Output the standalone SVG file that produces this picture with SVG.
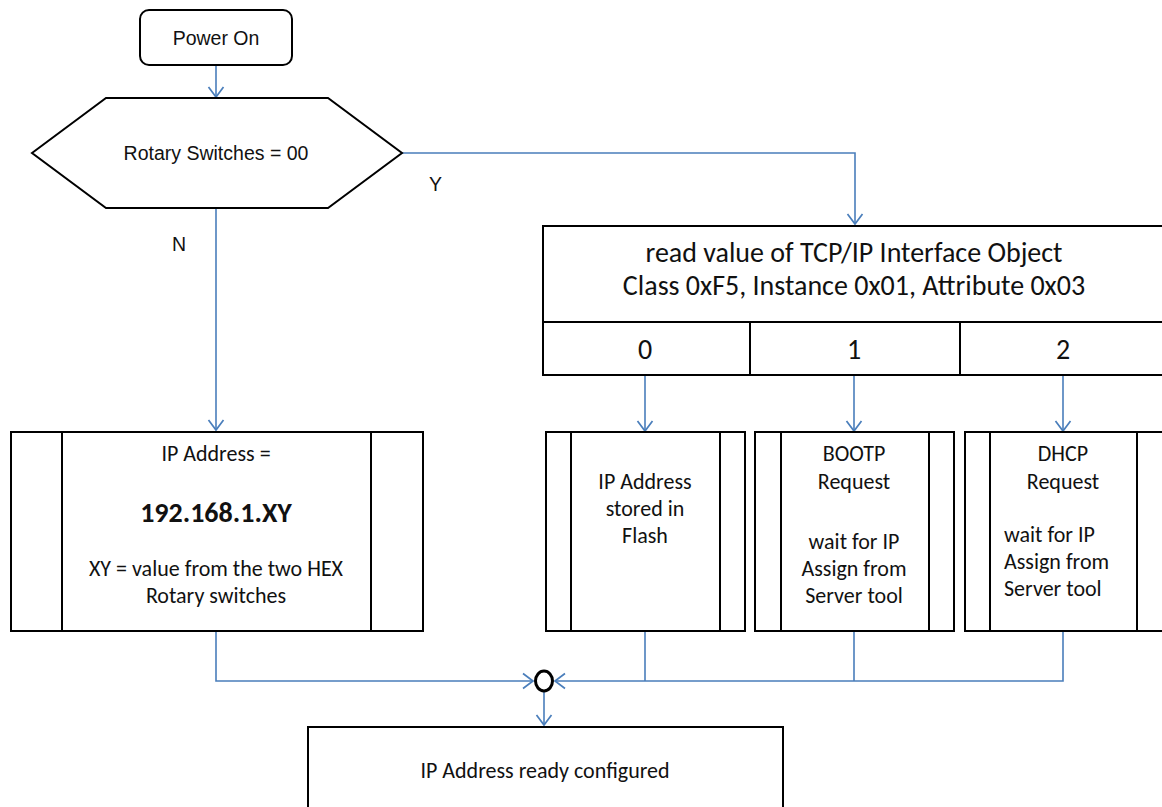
<svg xmlns="http://www.w3.org/2000/svg" width="1162" height="807" viewBox="0 0 1162 807">
<style>
.box{fill:#fff;stroke:#000;stroke-width:2}
.ln{fill:none;stroke:#000;stroke-width:2}
.c{fill:none;stroke:#4a7ebb;stroke-width:1.6}
.a{font-family:Arial,"Liberation Sans",sans-serif;font-size:19.5px;fill:#111;dominant-baseline:central}
.t{font-family:Carlito,Lato,"Liberation Sans",sans-serif;font-size:22px;fill:#111;dominant-baseline:central}
.big{font-size:28px}
.bold{font-weight:bold}
.m{text-anchor:middle}
</style>
<defs>
<marker id="ar" markerUnits="userSpaceOnUse" markerWidth="20" markerHeight="20" viewBox="0 0 20 20" refX="12" refY="10" orient="auto">
<path d="M2,2.5 L12,10 L2,17.5" fill="none" stroke="#4a7ebb" stroke-width="1.7"/>
</marker>
</defs>
<rect width="1162" height="807" fill="#fff"/>
<g id="connectors">
<path class="c" d="M216,65 V97" marker-end="url(#ar)"/>
<path class="c" d="M402,153 H855 V224" marker-end="url(#ar)"/>
<path class="c" d="M216,208 V430" marker-end="url(#ar)"/>
<path class="c" d="M645,375 V431" marker-end="url(#ar)"/>
<path class="c" d="M854,375 V431" marker-end="url(#ar)"/>
<path class="c" d="M1063,375 V431" marker-end="url(#ar)"/>
<path class="c" d="M216,631 V681 H533" marker-end="url(#ar)"/>
<path class="c" d="M645,631 V681 M854,631 V681 M1063,631 V681 H555" marker-end="url(#ar)"/>
<path class="c" d="M544,692 V725" marker-end="url(#ar)"/>
<text class="a" x="429" y="184">Y</text>
<text class="a" x="172" y="244">N</text>
</g>
<g id="power-on">
<rect class="box" x="140" y="10" width="152" height="55" rx="9"/>
<text class="a m" x="216" y="38">Power On</text>
</g>
<g id="rotary-switches">
<polygon class="box" points="32,153 106,98 328,98 402,153 328,208 106,208"/>
<text class="a m" x="216" y="153">Rotary Switches = 00</text>
</g>
<g id="read-value">
<rect class="box" x="543" y="226" width="625" height="96"/>
<text class="t big m" x="854" y="252">read value of TCP/IP Interface Object</text>
<text class="t big m" x="854" y="285">Class 0xF5, Instance 0x01, Attribute 0x03</text>
</g>
<g id="opt-0">
<rect class="box" x="543" y="322" width="207" height="53"/>
<text class="t big m" x="645" y="349">0</text>
</g>
<g id="opt-1">
<rect class="box" x="750" y="322" width="210" height="53"/>
<text class="t big m" x="854" y="349">1</text>
</g>
<g id="opt-2">
<rect class="box" x="960" y="322" width="208" height="53"/>
<text class="t big m" x="1063" y="349">2</text>
</g>
<g id="ip-rotary">
<rect class="box" x="11" y="432" width="412" height="199"/>
<path class="ln" d="M62,432 V631 M371,432 V631"/>
<text class="t m" x="216" y="453">IP Address =</text>
<text class="t big bold m" x="216" y="512">192.168.1.XY</text>
<text class="t m" x="216" y="568">XY = value from the two HEX</text>
<text class="t m" x="216" y="595">Rotary switches</text>
</g>
<g id="ip-flash">
<rect class="box" x="546" y="432" width="199" height="199"/>
<path class="ln" d="M571,432 V631 M720,432 V631"/>
<text class="t m" x="645" y="481">IP Address</text>
<text class="t m" x="645" y="508">stored in</text>
<text class="t m" x="645" y="535">Flash</text>
</g>
<g id="bootp">
<rect class="box" x="755" y="432" width="199" height="199"/>
<path class="ln" d="M781,432 V631 M929,432 V631"/>
<text class="t m" x="854" y="453">BOOTP</text>
<text class="t m" x="854" y="481">Request</text>
<text class="t m" x="854" y="541">wait for IP</text>
<text class="t m" x="854" y="568">Assign from</text>
<text class="t m" x="854" y="595">Server tool</text>
</g>
<g id="dhcp">
<rect class="box" x="965" y="432" width="203" height="199"/>
<path class="ln" d="M990,432 V631 M1137,432 V631"/>
<text class="t m" x="1063" y="453">DHCP</text>
<text class="t m" x="1063" y="481">Request</text>
<text class="t" x="1004" y="534">wait for IP</text>
<text class="t" x="1004" y="561">Assign from</text>
<text class="t" x="1004" y="588">Server tool</text>
</g>
<g id="junction">
<ellipse cx="544" cy="681" rx="8.5" ry="10" fill="#fff" stroke="#000" stroke-width="3"/>
</g>
<g id="ip-ready">
<rect class="box" x="308" y="727" width="475" height="90"/>
<text class="t m" x="545" y="770">IP Address ready configured</text>
</g>
</svg>
